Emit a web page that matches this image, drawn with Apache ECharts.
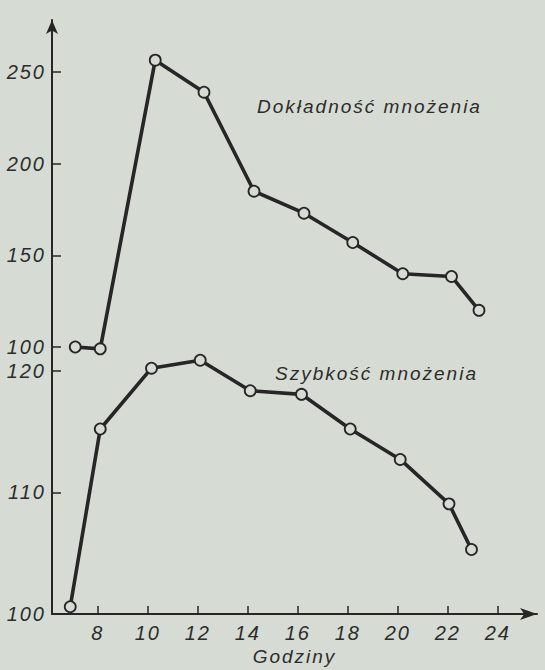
<!DOCTYPE html>
<html>
<head>
<meta charset="utf-8">
<script src="https://cdn.jsdelivr.net/npm/echarts@6.0.0/dist/echarts.min.js"></script>
<style>
  html, body { margin: 0; padding: 0; background: #d6dcd3; }
  #chart { width: 545px; height: 670px; }
  #chart svg text { letter-spacing: 2px; }
</style>
</head>
<body>
<div id="chart"></div>
<script>
// ---- data ----
const hoursDokladnosc = [7.1, 8.1, 10.3, 12.25, 14.25, 16.25, 18.2, 20.2, 22.15, 23.25];
const valuesDokladnosc = [100, 99, 256.5, 239, 185, 173, 157, 140, 138.5, 120];
const hoursSzybkosc = [6.9, 8.1, 10.15, 12.1, 14.1, 16.15, 18.1, 20.1, 22.05, 22.95];
const valuesSzybkosc = [100.6, 115.2, 120.2, 120.85, 118.35, 118.05, 115.2, 112.7, 109.05, 105.3];
const xTickHours = [8, 10, 12, 14, 16, 18, 20, 22, 24];
const yTicksDokladnosc = [100, 150, 200, 250];
const yTicksSzybkosc = [100, 110, 120];
const labelDokladnosc = 'Dokładność mnożenia';
const labelSzybkosc = 'Szybkość mnożenia';
const xAxisName = 'Godziny';

const INK = '#262626';
const PAPER = '#d6dcd3';
const FONT = 'Liberation Sans';

const chart = echarts.init(document.getElementById('chart'), null, { renderer: 'svg' });

const xBase = {
  type: 'value', min: 6.17, max: 25.57,
  splitLine: { show: false }
};
const labelStyle = { color: '#2c2c2c', fontFamily: FONT, fontStyle: 'italic', fontSize: 20 };

function lineSeries(hours, values, idx) {
  return {
    type: 'line', xAxisIndex: idx, yAxisIndex: idx,
    data: hours.map((h, i) => [h, values[i]]),
    clip: false,
    symbol: 'circle', symbolSize: 11,
    lineStyle: { color: INK, width: 3.6 },
    itemStyle: { color: PAPER, borderColor: INK, borderWidth: 1.8 },
    z: 5
  };
}

chart.setOption({
  animation: false,
  backgroundColor: PAPER,
  grid: [
    { left: 52, right: 8, top: 20, height: 327 },
    { left: 52, right: 8, top: 347, height: 267 }
  ],
  xAxis: [
    Object.assign({}, xBase, { gridIndex: 0, show: false }),
    Object.assign({}, xBase, {
      gridIndex: 1,
      name: xAxisName, nameLocation: 'middle', nameGap: 33,
      nameTextStyle: Object.assign({}, labelStyle, { fontSize: 19 }),
      axisLine: { lineStyle: { color: INK, width: 2 }, symbol: ['none', 'arrow'], symbolSize: [9, 17] },
      axisTick: { inside: true, length: 8, lineStyle: { color: INK, width: 1.5 }, customValues: xTickHours },
      axisLabel: Object.assign({ margin: 9, customValues: xTickHours }, labelStyle)
    })
  ],
  yAxis: [
    {
      type: 'value', gridIndex: 0, min: 100, max: 278.4,
      splitLine: { show: false },
      axisLine: { show: true, lineStyle: { color: INK, width: 2 }, symbol: ['none', 'arrow'], symbolSize: [9, 14] },
      axisTick: { show: true, inside: true, length: 9, lineStyle: { color: INK, width: 1.5 }, customValues: yTicksDokladnosc },
      axisLabel: Object.assign({ margin: 6, customValues: yTicksDokladnosc }, labelStyle)
    },
    {
      type: 'value', gridIndex: 1, min: 100, max: 121.94,
      splitLine: { show: false },
      axisLine: { show: true, lineStyle: { color: INK, width: 2 } },
      axisTick: { show: true, inside: true, length: 9, lineStyle: { color: INK, width: 1.5 }, customValues: yTicksSzybkosc },
      axisLabel: Object.assign({ margin: 6, customValues: yTicksSzybkosc }, labelStyle)
    }
  ],
  series: [
    lineSeries(hoursDokladnosc, valuesDokladnosc, 0),
    lineSeries(hoursSzybkosc, valuesSzybkosc, 1)
  ],
  graphic: [
    { type: 'text', left: 257, top: 97,
      style: { text: labelDokladnosc, fill: '#2c2c2c', font: 'italic 19px "Liberation Sans"' } },
    { type: 'text', left: 275, top: 364,
      style: { text: labelSzybkosc, fill: '#2c2c2c', font: 'italic 19px "Liberation Sans"' } }
  ]
});
</script>
</body>
</html>
